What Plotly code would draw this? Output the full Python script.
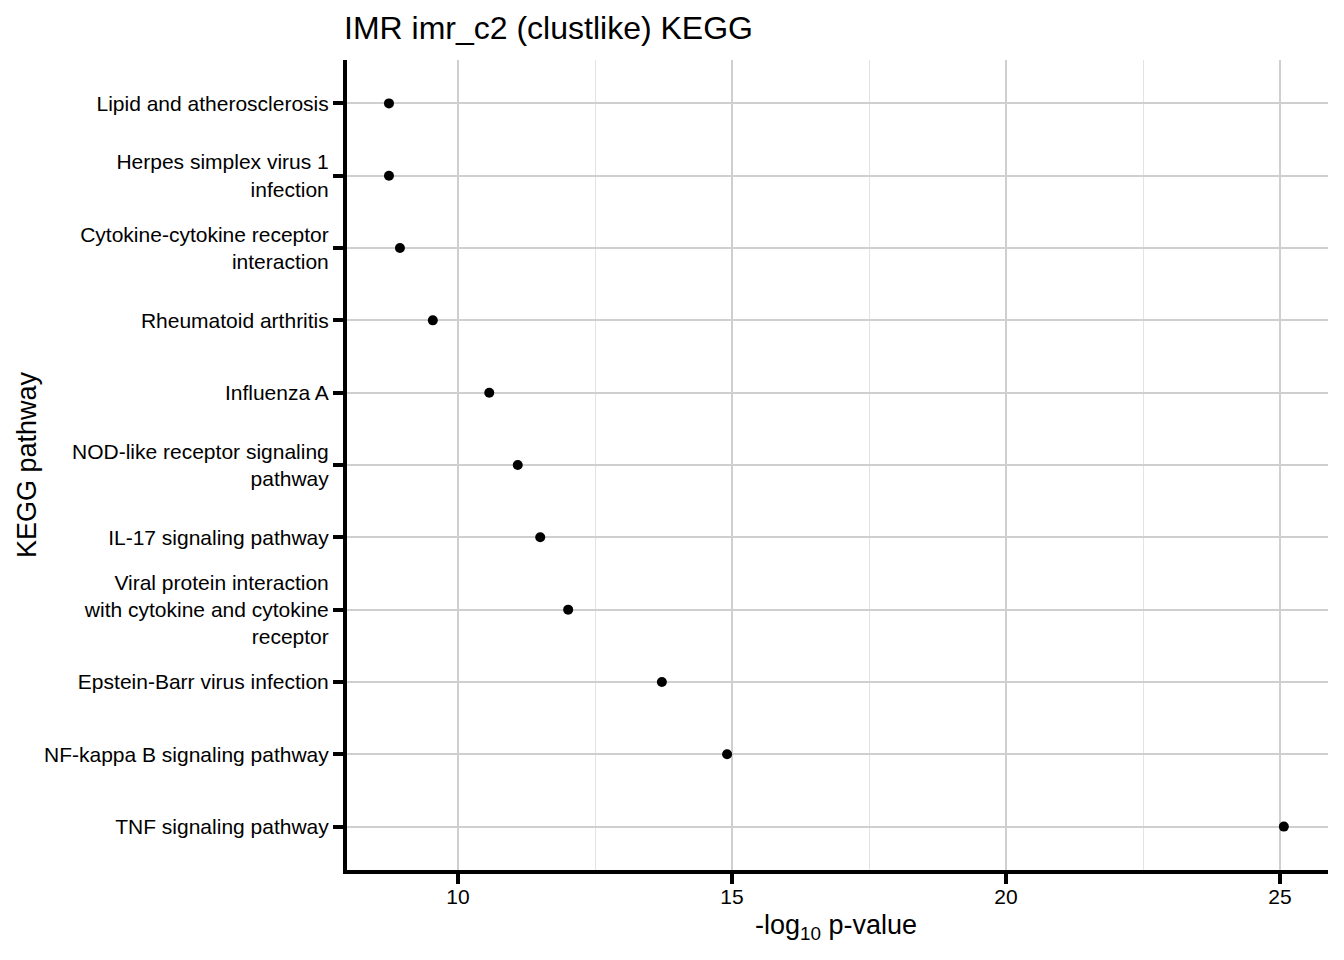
import plotly.graph_objects as go

pathways = [
    "Lipid and atherosclerosis",
    "Herpes simplex virus 1<br>infection",
    "Cytokine-cytokine receptor<br>interaction",
    "Rheumatoid arthritis",
    "Influenza A",
    "NOD-like receptor signaling<br>pathway",
    "IL-17 signaling pathway",
    "Viral protein interaction<br>with cytokine and cytokine<br>receptor",
    "Epstein-Barr virus infection",
    "NF-kappa B signaling pathway",
    "TNF signaling pathway",
]
neg_log10_p = [8.74, 8.74, 8.94, 9.54, 10.57, 11.09, 11.50, 12.01, 13.72, 14.91, 25.07]
x_ticks = [10, 15, 20, 25]

FONT = "Liberation Sans, Arial, sans-serif"
OFF = 8  # default page body margin

fig = go.Figure()
fig.add_trace(go.Scatter(
    x=neg_log10_p, y=pathways, mode="markers",
    marker=dict(color="black", size=10),
    showlegend=False, hoverinfo="x+y",
))

W, H = 1344 - OFF, 960 - OFF
L = 347
PW = 1328 - L
fig.update_layout(
    width=W, height=H,
    margin=dict(l=L - OFF, r=16, t=60 - OFF, b=90),
    paper_bgcolor="white", plot_bgcolor="white",
    font=dict(family=FONT, color="black", size=21),
    title=dict(text="IMR imr_c2 (clustlike) KEGG", x=(344 - OFF) / W, xanchor="left",
               y=1 - (28 - OFF) / H, yanchor="middle",
               font=dict(size=32, family=FONT, color="black")),
)
fig.update_xaxes(
    range=[7.974, 25.876], tickvals=x_ticks, ticktext=[str(v) for v in x_ticks],
    showline=True, linecolor="black", linewidth=4,
    ticks="outside", ticklen=10, tickwidth=4, tickcolor="black",
    showgrid=True, gridcolor="#cfcfcf", gridwidth=1.6,
    minor=dict(tickvals=[12.5, 17.5, 22.5], showgrid=True, gridcolor="#e3e3e3", gridwidth=1.2, ticks=""),
    zeroline=False, tickfont=dict(size=21, color="black"), ticklabelstandoff=-5,
)
fig.update_yaxes(
    categoryorder="array", categoryarray=pathways[::-1], range=[-0.6, 10.6],
    showline=True, linecolor="black", linewidth=4,
    ticks="outside", ticklen=10, tickwidth=4, tickcolor="black",
    showgrid=True, gridcolor="#cfcfcf", gridwidth=1.6,
    zeroline=False, tickfont=dict(size=21, color="black"), ticklabelstandoff=0,
)
fig.add_annotation(text="-log<sub>10</sub> p-value", xref="paper", yref="paper",
                   x=(836 - L) / PW, y=-57 / 810, xanchor="center", yanchor="middle", showarrow=False,
                   font=dict(size=27, family=FONT, color="black"))
fig.add_annotation(text="KEGG pathway", xref="paper", yref="paper",
                   x=-(L - 27) / PW, y=0.5, xanchor="center", yanchor="middle",
                   textangle=-90, showarrow=False,
                   font=dict(size=27, family=FONT, color="black"))

fig.write_html("out.html")
